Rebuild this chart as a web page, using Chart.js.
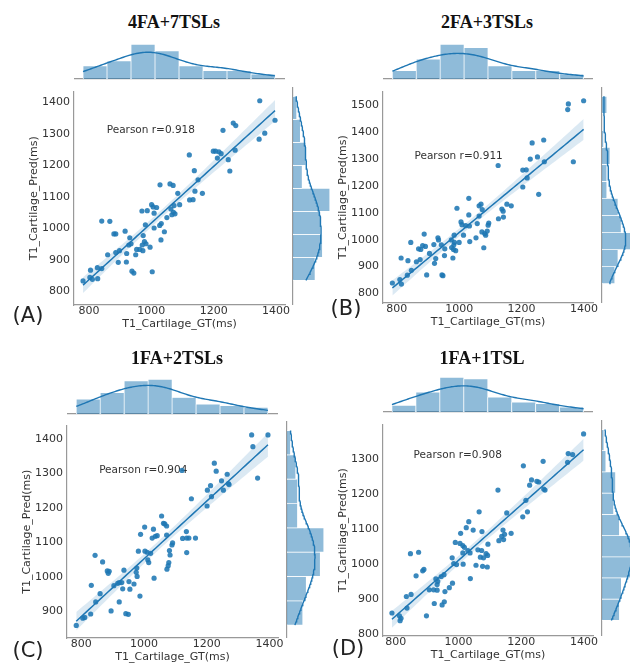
<!DOCTYPE html>
<html>
<head>
<meta charset="utf-8">
<script src="https://cdn.jsdelivr.net/npm/chart.js@4.4.0/dist/chart.umd.min.js"></script>
<style>
  body { margin: 0; width: 630px; height: 666px; overflow: hidden; background: #fff; position: relative; }
  canvas { position: absolute; }
  .title { position: absolute; transform: translate(-50%, -50%); font: bold 18px "Liberation Serif", serif; color: #111; white-space: nowrap; }
  .tag { position: absolute; transform: translate(-50%, -50%); font: 21px "DejaVu Sans", sans-serif; color: #222; white-space: nowrap; }
</style>
</head>
<body>
<script>
// panel titles, tags and printed Pearson r
const titles = ['4FA+7TSLs', '2FA+3TSLs', '1FA+2TSLs', '1FA+1TSL'];
const tags = ['(A)', '(B)', '(C)', '(D)'];
const pearson = ['0.918', '0.911', '0.904', '0.908'];

// ground truth vs predicted cartilage T1 (ms), one pair of arrays per panel
const gtA = [1348,1397,1263,1271,1230,1364,1346,1199,1206,1217,1224,1269,1122,1212,1247,1138,1252,1150,1028,1060,1070,1140,1164,1085,1123,1134,1001,1006,1017,1091,1073,970,987,1009,1063,1071,1076,1066,1050,841,867,981,1032,1027,1009,916,880,886,1042,974,931,1031,978,983,996,971,935,928,898,886,953,963,973,860,921,950,894,920,827,841,805,938,944,1003,781,803,811,828];
const predA = [1405,1343,1334,1326,1311,1302,1283,1245,1245,1243,1237,1248,1233,1223,1218,1183,1182,1154,1138,1141,1136,1118,1111,1111,1090,1091,1075,1068,1066,1075,1072,1055,1056,1048,1061,1051,1046,1043,1034,1023,1022,1011,1015,1009,1001,991,982,982,989,977,970,963,958,951,940,947,951,947,929,923,933,933,929,916,920,916,892,893,875,872,867,864,858,862,833,844,838,840];

const gtB = [1399,1350,1348,1271,1234,1251,1228,1273,1366,1125,1204,1215,1218,1204,1255,1031,1064,1070,1074,1153,1167,993,1137,1141,1126,1142,1031,1064,1095,1093,1006,1009,1021,1033,1058,984,1014,888,932,934,1073,1082,1090,1085,1054,975,985,983,845,883,892,870,877,919,943,954,976,982,989,1000,1034,1079,905,953,814,836,863,875,925,921,980,896,945,948,834,847,786,810,815];
const predB = [1517,1505,1484,1371,1360,1308,1300,1290,1290,1276,1259,1260,1230,1196,1169,1154,1126,1132,1112,1132,1126,1117,1114,1106,1078,1084,1092,1088,1062,1054,1066,1056,1052,1051,1060,1017,1017,1021,1007,999,1029,1023,1032,1017,1007,999,990,981,990,978,975,966,964,982,981,966,971,964,959,990,993,970,949,941,932,922,918,926,930,912,932,869,869,866,868,886,839,852,835];

const gtC = [1343,1395,1347,1362,1224,1230,1265,1212,1202,1247,1253,1269,1271,1215,1151,1201,1056,1062,1066,1072,1002,1030,1036,1026,1042,989,1072,1135,1136,1123,1143,1164,1091,1089,982,1003,1010,1021,1081,1083,1136,1012,1015,1079,1077,1073,844,868,977,975,978,883,889,886,936,1032,952,968,921,929,916,904,832,932,955,860,987,846,921,895,942,950,830,805,811,784,1121];
const predC = [1411,1411,1377,1286,1329,1306,1297,1264,1251,1278,1251,1270,1267,1232,1226,1205,1176,1155,1153,1147,1144,1138,1117,1112,1119,1123,1121,1131,1112,1111,1112,1112,1098,1092,1074,1074,1071,1068,1076,1063,1070,1049,1041,1041,1032,1022,1062,1043,1025,1013,1001,1017,1016,1010,1019,996,986,979,983,983,981,974,975,965,964,951,944,927,927,901,893,891,892,880,882,859,1308];

const gtD = [1399,1350,1364,1348,1207,1270,1126,1233,1250,1256,1227,1272,1276,1215,1154,1205,1220,1066,1033,1025,1047,1007,1075,1142,1147,1138,1129,1144,1168,990,1005,1014,1019,1094,1014,1030,1037,1062,1074,1056,1088,1093,1080,1070,1092,1077,847,873,980,985,994,1015,890,886,865,1038,954,945,928,934,932,981,971,907,921,932,957,834,849,923,948,955,836,898,788,812,814,817];
const predD = [1371,1315,1312,1290,1280,1293,1211,1240,1236,1234,1225,1214,1211,1182,1146,1135,1149,1149,1121,1104,1097,1088,1093,1097,1085,1079,1067,1070,1088,1062,1059,1053,1048,1057,1032,1039,1032,1041,1039,997,1030,1025,1018,1020,992,994,1030,1034,1018,1002,999,1000,985,981,967,959,970,965,958,951,942,946,933,927,927,926,922,908,914,888,884,893,875,853,861,853,839,846];

// marginal histogram counts: top = GT bins left to right, side = Pred bins bottom to top
const topHistA = [8, 11, 21, 17, 8, 5, 5, 3];
const topHistB = [5, 12, 21, 19, 8, 5, 5, 3];
const topHistC = [9, 13, 20, 21, 10, 6, 5, 4];
const topHistD = [4, 12, 21, 20, 9, 6, 5, 3];
const sideHistA = [12, 16, 15, 20, 5, 7, 4, 2];
const sideHistB = [8, 10, 23, 12, 10, 3, 3, 5, 1, 0, 3];
const sideHistC = [9, 11, 19, 21, 6, 6, 5, 2];
const sideHistD = [9, 10, 19, 18, 9, 6, 7, 2, 1];

const series = [
  [gtA, predA, topHistA, sideHistA],
  [gtB, predB, topHistB, sideHistB],
  [gtC, predC, topHistC, sideHistC],
  [gtD, predD, topHistD, sideHistD],
];

// page layout of each joint plot (pixels) and its axis limits
const panels = [
  { l: 74, t: 87, r: 285, b: 305, xMin: 752, xMax: 1429, yMin: 756.5, yMax: 1434, base: 79, side: 293, title: [174, 22], tag: [28, 315] },
  { l: 383, t: 87, r: 593, b: 303, xMin: 756, xMax: 1429, yMin: 764.5, yMax: 1551, base: 79, side: 602, title: [487, 22], tag: [346, 308] },
  { l: 67, t: 421, r: 278, b: 638, xMin: 754.5, xMax: 1427, yMin: 822.5, yMax: 1438, base: 414, side: 287, title: [177, 358], tag: [28, 650] },
  { l: 383, t: 420, r: 593, b: 636, xMin: 759.5, xMax: 1429, yMin: 795.5, yMax: 1397.5, base: 412, side: 602, title: [482, 358], tag: [348, 648] },
];

const blue = '#1f77b4';
const dot = 'rgba(31,119,180,0.88)';
const histFill = 'rgba(31,119,180,0.5)';
const band = 'rgba(31,119,180,0.16)';
const spine = '#999';

Chart.defaults.font.family = '"DejaVu Sans", sans-serif';
Chart.defaults.color = '#333';
Chart.defaults.animation = false;
Chart.defaults.responsive = false;
Chart.defaults.plugins.legend.display = false;
Chart.defaults.plugins.tooltip.enabled = false;

const sum = a => a.reduce((s, v) => s + v, 0);
const mean = a => sum(a) / a.length;

function addCanvas(x, y, w, h) {
  const c = document.createElement('canvas');
  c.width = Math.round(w);
  c.height = Math.round(h);
  c.style.left = Math.round(x) + 'px';
  c.style.top = Math.round(y) + 'px';
  document.body.appendChild(c);
  return c;
}

function addText(cls, text, pos) {
  const d = document.createElement('div');
  d.className = cls;
  d.textContent = text;
  d.style.left = pos[0] + 'px';
  d.style.top = pos[1] + 'px';
  document.body.appendChild(d);
}

// gaussian kde (scott bandwidth), scaled to the histogram counts
function kde(vals, total, width, steps) {
  const m = vals.length, mu = mean(vals);
  const sd = Math.sqrt(vals.reduce((s, v) => s + (v - mu) ** 2, 0) / (m - 1));
  const bw = sd * Math.pow(m, -0.2);
  const lo = Math.min(...vals), hi = Math.max(...vals);
  const out = [];
  for (let i = 0; i < steps; i++) {
    const x = lo + (hi - lo) * i / (steps - 1);
    let d = 0;
    vals.forEach(v => { const z = (x - v) / bw; d += Math.exp(-0.5 * z * z); });
    out.push([x, d / (m * bw * Math.sqrt(2 * Math.PI)) * total * width]);
  }
  return out;
}

function fitLine(xs, ys) {
  const mx = mean(xs), my = mean(ys);
  let sxx = 0, sxy = 0;
  xs.forEach((x, i) => { sxx += (x - mx) ** 2; sxy += (x - mx) * (ys[i] - my); });
  const slope = sxy / sxx, icpt = my - slope * mx;
  let sse = 0;
  xs.forEach((x, i) => { sse += (ys[i] - icpt - slope * x) ** 2; });
  return { slope, icpt, mx, sxx, s: Math.sqrt(sse / (xs.length - 2)), n: xs.length };
}

const noTicks = s => { s.ticks = []; };
// round-number ticks only, inside the axis limits
const stepTicks = step => s => {
  const out = [];
  for (let v = Math.ceil(s.min / step) * step; v <= s.max; v += step) out.push({ value: v });
  s.ticks = out;
};

const pearsonLabel = {
  id: 'pearson',
  beforeDatasetsDraw(chart, args, opts) {
    const { ctx, scales: { x, y } } = chart;
    ctx.save();
    ctx.font = '10.5px "DejaVu Sans", sans-serif';
    ctx.fillStyle = '#333';
    ctx.textBaseline = 'middle';
    ctx.fillText(opts.text, x.getPixelForValue(opts.x), y.getPixelForValue(opts.y));
    ctx.restore();
  }
};

function topHist(p, vals, counts) {
  const lo = Math.min(...vals), hi = Math.max(...vals), w = (hi - lo) / counts.length;
  const c = addCanvas(p.l, p.base - 39, p.r - p.l, 40);
  new Chart(c, {
    type: 'bar',
    data: {
      datasets: [
        { type: 'line', data: kde(vals, sum(counts), w, 120).map(([x, y]) => ({ x, y })),
          borderColor: blue, borderWidth: 1.4, pointRadius: 0 },
        { data: counts.map((n, i) => ({ x: lo + (i + 0.5) * w, y: n })),
          backgroundColor: histFill, borderColor: '#fff', borderWidth: 0.7,
          categoryPercentage: 1, barPercentage: 1 }
      ]
    },
    options: {
      layout: { padding: { top: 2, bottom: 1 } },
      scales: {
        x: { type: 'linear', min: p.xMin, max: p.xMax, offset: false,
             grid: { display: false, drawTicks: false }, ticks: { display: false },
             border: { color: spine, width: 1.2 },
             afterBuildTicks: noTicks, afterFit: s => { s.height = 0; } },
        y: { display: false, min: 0, max: Math.max(...counts) * 1.066 }
      }
    }
  });
}

function sideHist(p, vals, counts) {
  const lo = Math.min(...vals), hi = Math.max(...vals), w = (hi - lo) / counts.length;
  const c = addCanvas(p.side - 1, p.t, 40, p.b - p.t);
  new Chart(c, {
    type: 'bar',
    data: {
      datasets: [
        { type: 'line', data: kde(vals, sum(counts), w, 120).map(([v, d]) => ({ x: d, y: v })),
          borderColor: blue, borderWidth: 1.4, pointRadius: 0 },
        { data: counts.map((n, i) => ({ y: lo + (i + 0.5) * w, x: n })),
          backgroundColor: histFill, borderColor: '#fff', borderWidth: 0.7,
          categoryPercentage: 1, barPercentage: 1 }
      ]
    },
    options: {
      indexAxis: 'y',
      layout: { padding: { left: 1 } },
      scales: {
        y: { type: 'linear', min: p.yMin, max: p.yMax, offset: false,
             grid: { display: false, drawTicks: false }, ticks: { display: false },
             border: { color: spine, width: 1.2 },
             afterBuildTicks: noTicks, afterFit: s => { s.width = 0; } },
        x: { type: 'linear', display: false, min: 0, max: Math.max(...counts) * 1.06 }
      }
    }
  });
}

function mainPlot(p, xs, ys, r) {
  const fit = fitLine(xs, ys);
  const lo = Math.min(...xs), hi = Math.max(...xs);
  const line = [], upper = [], lower = [];
  for (let i = 0; i <= 60; i++) {
    const x = lo + (hi - lo) * i / 60;
    const yh = fit.icpt + fit.slope * x;
    const se = fit.s * Math.sqrt(1 / fit.n + (x - fit.mx) ** 2 / fit.sxx);
    line.push({ x, y: yh });
    upper.push({ x, y: yh + 1.99 * se });
    lower.push({ x, y: yh - 1.99 * se });
  }
  const c = addCanvas(p.l - 60, p.t - 6, p.r - p.l + 74, p.b - p.t + 36);
  new Chart(c, {
    type: 'scatter',
    data: {
      datasets: [
        { type: 'line', data: line, borderColor: blue, borderWidth: 1.5, pointRadius: 0 },
        { type: 'line', data: upper, borderWidth: 0, pointRadius: 0, fill: '+1', backgroundColor: band },
        { type: 'line', data: lower, borderWidth: 0, pointRadius: 0, fill: false },
        { data: xs.map((x, i) => ({ x, y: ys[i] })), backgroundColor: dot, pointBackgroundColor: dot,
          pointRadius: 2.6, pointBorderWidth: 0 }
      ]
    },
    options: {
      layout: { padding: { top: 6, right: 14 } },
      scales: {
        x: { type: 'linear', min: p.xMin, max: p.xMax,
             grid: { display: false, drawTicks: false }, border: { color: spine, width: 1.2 },
             ticks: { padding: 0, font: { size: 11 }, color: '#333', callback: v => String(v) },
             afterBuildTicks: stepTicks(200),
             title: { display: true, text: 'T1_Cartilage_GT(ms)', font: { size: 11 }, color: '#333', padding: { top: 0, bottom: 4.4 } },
             afterFit: s => { s.height = 30; } },
        y: { type: 'linear', min: p.yMin, max: p.yMax,
             grid: { display: false, drawTicks: false }, border: { color: spine, width: 1.2 },
             ticks: { padding: 4, font: { size: 11 }, color: '#333', callback: v => String(v) },
             afterBuildTicks: stepTicks(100),
             title: { display: true, text: 'T1_Cartilage_Pred(ms)', font: { size: 11 }, color: '#333', padding: { top: 13.4, bottom: 0 } },
             afterFit: s => { s.width = 60; } }
      },
      plugins: { pearson: { text: 'Pearson r=' + r, x: 857, y: 1310 } }
    },
    plugins: [pearsonLabel]
  });
}

panels.forEach((p, i) => {
  const [gt, pred, top, side] = series[i];
  topHist(p, gt, top);
  sideHist(p, pred, side);
  mainPlot(p, gt, pred, pearson[i]);
  addText('title', titles[i], p.title);
  addText('tag', tags[i], p.tag);
});
</script>
</body>
</html>
